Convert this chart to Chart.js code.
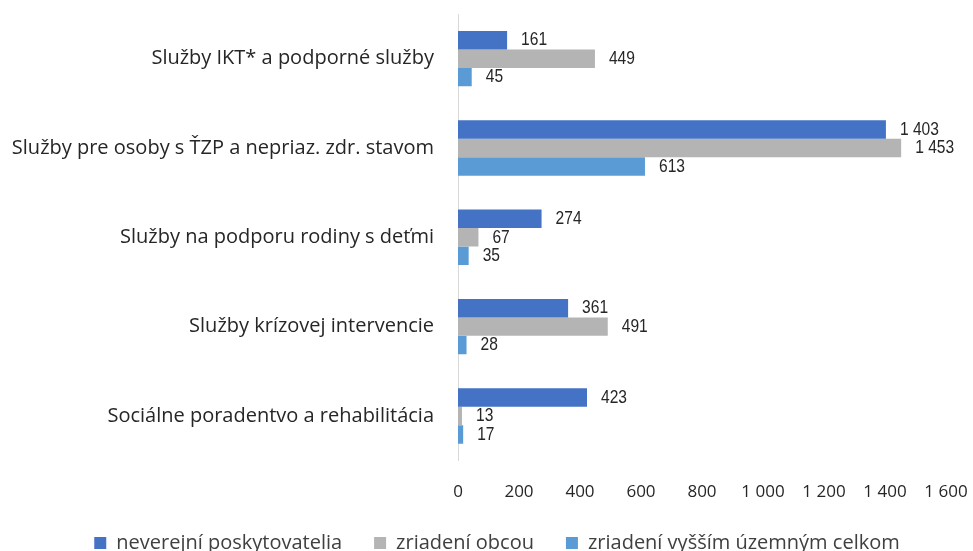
<!DOCTYPE html>
<html>
<head>
<meta charset="utf-8">
<script src="https://cdn.jsdelivr.net/npm/chart.js@4/dist/chart.umd.min.js"></script>
<style>
  html, body { margin: 0; padding: 0; background: #fff; }
  #wrap { width: 973px; height: 551px; }
</style>
</head>
<body>
<div id="wrap"><canvas id="chart" width="973" height="551"></canvas></div>
<script>
// Data
const categories = [
    'Služby IKT* a podporné služby',
    'Služby pre osoby s ŤZP a nepriaz. zdr. stavom',
    'Služby na podporu rodiny s deťmi',
    'Služby krízovej intervencie',
    'Sociálne poradentvo a rehabilitácia'
];
const neverejni = [161, 1403, 274, 361, 423];
const obce = [449, 1453, 67, 491, 13];
const vuc = [45, 613, 35, 28, 17];
const xTicks = [0, 200, 400, 600, 800, 1000, 1200, 1400, 1600];

const fmt = v => String(v).replace(/\B(?=(\d{3})+(?!\d))/g, ' ');

// Value labels to the right of each bar (condensed, like Arial Narrow)
const valueLabels = {
    id: 'valueLabels',
    afterDatasetsDraw(chart) {
        const ctx = chart.ctx;
        chart.data.datasets.forEach((ds, i) => {
            chart.getDatasetMeta(i).data.forEach((bar, j) => {
                ctx.save();
                ctx.font = '19px "Liberation Sans", Arial, sans-serif';
                ctx.fillStyle = '#262626';
                ctx.textBaseline = 'middle';
                ctx.textAlign = 'left';
                ctx.translate(bar.x + 14, bar.y);
                ctx.scale(0.82, 1);
                ctx.fillText(fmt(ds.data[j]), 0, 0);
                ctx.restore();
            });
        });
    }
};

// Nudge the legend a bit to the right, as in the reference
const legendShift = {
    id: 'legendShift',
    afterLayout(chart) {
        chart.legend.left += 24;
        chart.legend.right += 24;
    }
};

new Chart(document.getElementById('chart'), {
    type: 'bar',
    data: {
        labels: categories,
        datasets: [{
            label: 'neverejní poskytovatelia',
            data: neverejni,
            backgroundColor: '#4472C4'
        }, {
            label: 'zriadení obcou',
            data: obce,
            backgroundColor: '#B4B4B4'
        }, {
            label: 'zriadení vyšším územným celkom',
            data: vuc,
            backgroundColor: '#5B9BD5'
        }]
    },
    options: {
        indexAxis: 'y',
        responsive: false,
        animation: false,
        layout: { padding: { top: 14, right: 27, left: 0, bottom: -12 } },
        datasets: {
            bar: { categoryPercentage: 0.62, barPercentage: 1.0 }
        },
        plugins: {
            legend: {
                position: 'bottom',
                labels: {
                    boxWidth: 12,
                    boxHeight: 12,
                    padding: 32,
                    color: '#404040',
                    font: { family: '"Open Sans", "Noto Sans", sans-serif', size: 20 }
                }
            },
            tooltip: { enabled: false }
        },
        scales: {
            x: {
                min: 0,
                max: 1600,
                afterBuildTicks: axis => { axis.ticks = xTicks.map(v => ({ value: v })); },
                afterFit: axis => {
                    axis.paddingLeft = 0;
                    axis.paddingRight = 0;
                    axis.height -= 14;
                },
                grid: { display: false },
                border: { display: false },
                ticks: {
                    padding: 13,
                    color: '#262626',
                    maxRotation: 0,
                    callback: v => fmt(v),
                    font: { family: '"Open Sans", "Noto Sans", sans-serif', size: 17 }
                }
            },
            y: {
                afterFit: axis => {
                    axis.width = 458;
                    axis.paddingTop = 0;
                    axis.paddingBottom = 0;
                },
                grid: { color: 'transparent', drawTicks: false },
                border: { display: true, color: '#D9D9D9', width: 1 },
                ticks: {
                    padding: 24,
                    color: '#262626',
                    font: { family: '"Open Sans", "Noto Sans", sans-serif', size: 20 }
                }
            }
        }
    },
    plugins: [valueLabels, legendShift]
});
</script>
</body>
</html>
